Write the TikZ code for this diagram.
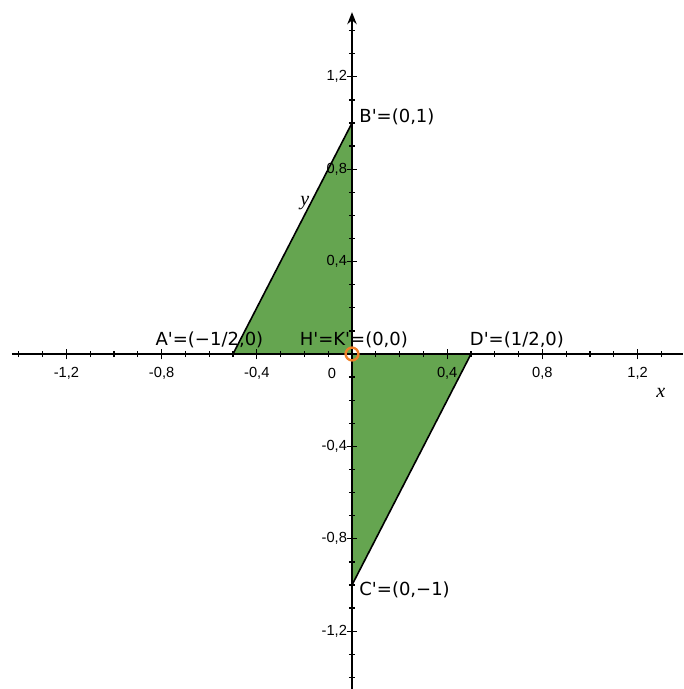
\documentclass[tikz,border=0pt]{standalone}
\usepackage{fontspec}
\usetikzlibrary{arrows.meta}
\newfontfamily\labfont{DejaVu Sans}
\newfontfamily\tickfont{Liberation Sans}
\newfontfamily\axfont{Liberation Serif}
\definecolor{fillgreen}{RGB}{101,165,80}
\definecolor{ptorange}{RGB}{240,128,40}
\tikzset{
  axisline/.style={line width=1.6pt, black},
  tri/.style={fill=fillgreen, draw=black, line width=1.2pt, line join=round},
  minortick/.style={line width=1pt},
  majortick/.style={line width=1pt},
  ptlabel/.style={font=\labfont\fontsize{13.5}{15}\selectfont, inner sep=0pt},
  ticklabel/.style={font=\tickfont\fontsize{11}{13}\selectfont, inner sep=0pt},
  axlabel/.style={font=\axfont\itshape\fontsize{15}{17}\selectfont, inner sep=0pt}
}
\begin{document}
\begin{tikzpicture}[x=178.5pt, y=173.25pt]
\useasboundingbox (-1.4790,-1.4502) rectangle (1.3908,1.5325);
% points
\coordinate (O) at (0,0);
\coordinate (A) at (-0.5,0);
\coordinate (B) at (0,1);
\coordinate (C) at (0,-1);
\coordinate (D) at (0.5,0);
% triangles
\draw[tri] (A) -- (B) -- (O) -- cycle;
\draw[tri] (O) -- (D) -- (C) -- cycle;
% axes
\coordinate (xl) at (-1.429,0);
\coordinate (xr) at (1.3908,0);
\coordinate (yb) at (0,-1.4502);
\coordinate (yt) at (0,1.48);
\draw[axisline] (xl) -- (xr);
\draw[axisline, -{Stealth[length=9pt,width=7pt]}] (yb) -- (yt);
% ticks
\foreach \i in {-14,...,13}{
  \draw[minortick] (\i/10,0) ++(0,-2.3pt) -- ++(0,4.6pt);
}
\foreach \i in {-14,...,14}{
  \draw[minortick] (0,\i/10) ++(-2.3pt,0) -- ++(4.6pt,0);
}
\foreach \v in {-1.2,-0.8,-0.4,0.4,0.8,1.2}{
  \draw[majortick] (\v,0) ++(0,-4pt) -- ++(0,8pt);
  \draw[majortick] (0,\v) ++(-4pt,0) -- ++(8pt,0);
}
% tick labels
\node[ticklabel] (tx1) at (-1.2,-0.085) {-1,2};
\node[ticklabel] (tx2) at (-0.8,-0.085) {-0,8};
\node[ticklabel] (tx3) at (-0.4,-0.085) {-0,4};
\node[ticklabel] (tx0) at (-0.084,-0.085) {0};
\node[ticklabel] (tx4) at (0.4,-0.085) {0,4};
\node[ticklabel] (tx5) at (0.8,-0.085) {0,8};
\node[ticklabel] (tx6) at (1.2,-0.085) {1,2};
\node[ticklabel, anchor=east] (ty1) at (-0.02,1.2) {1,2};
\node[ticklabel, anchor=east] (ty2) at (-0.02,0.8) {0,8};
\node[ticklabel, anchor=east] (ty3) at (-0.02,0.4) {0,4};
\node[ticklabel, anchor=east] (ty4) at (-0.02,-0.4) {-0,4};
\node[ticklabel, anchor=east] (ty5) at (-0.02,-0.8) {-0,8};
\node[ticklabel, anchor=east] (ty6) at (-0.02,-1.2) {-1,2};
% axis labels
\node[axlabel] (xlab) at (1.298,-0.17) {x};
\node[axlabel] (ylab) at (-0.198,0.655) {y};
% point labels
\node[ptlabel, anchor=west] (lB) at (0.03,1.025) {B'=(0,1)};
\node[ptlabel] (lA) at (-0.599,0.063) {A'=(−1/2,0)};
\node[ptlabel] (lH) at (0.008,0.063) {H'=K'=(0,0)};
\node[ptlabel] (lD) at (0.693,0.063) {D'=(1/2,0)};
\node[ptlabel, anchor=west] (lC) at (0.03,-1.02) {C'=(0,−1)};
% origin marker
\draw[ptorange, line width=1.8pt] (O) circle (4.8pt);
\end{tikzpicture}
\end{document}
